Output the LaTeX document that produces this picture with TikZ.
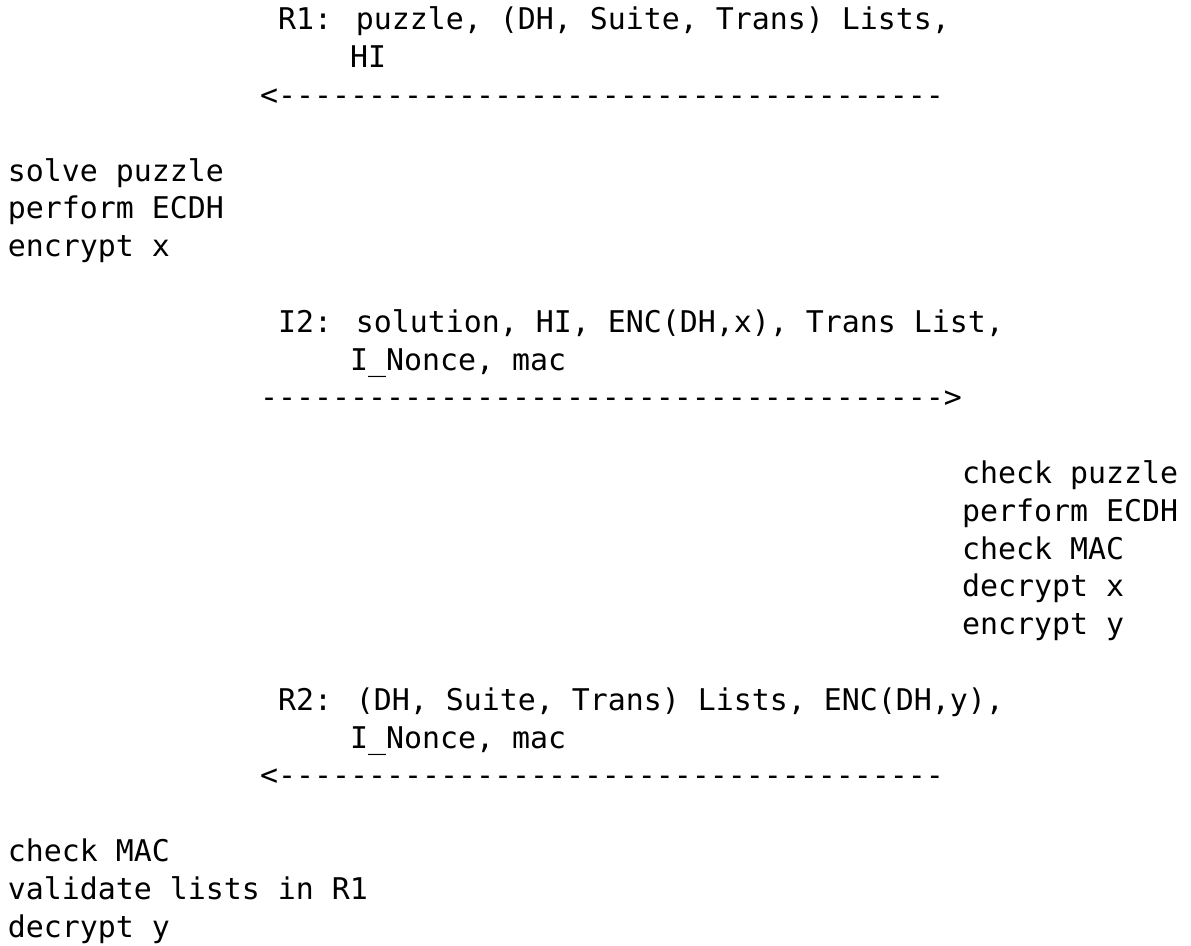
\documentclass[tikz,border=0pt]{standalone}
\usepackage{fontspec}
\newfontfamily\mono{DejaVu Sans Mono}
\newcommand\rep[2]{\ifnum#1>0 #2\kern0pt\expandafter\rep\expandafter{\the\numexpr#1-1\relax}{#2}\fi}
\begin{document}
\begin{tikzpicture}[x=1pt,y=1pt,
  txt/.style={anchor=base west, inner sep=0pt, outer sep=0pt,
    font=\mono\fontsize{29.9pt}{37.8pt}\selectfont}]
\useasboundingbox (0,0) rectangle (1191,945);
% row r baseline: 945-29.9-37.8*r ; column c: 8+18*c
\node[txt] (r1a) at ({8+18*15},{945-29.9-37.8*0}) {R1: puzzle, (DH, Suite, Trans) Lists,};
\node[txt] (r1b) at ({8+18*19},{945-29.9-37.8*1}) {HI};
\node[txt] (arr1) at ({8+18*14},{945-29.9-37.8*2}) {<\kern0pt\rep{37}{-}};
\node[txt] (ia) at ({8+18*0},{945-29.9-37.8*4}) {solve puzzle};
\node[txt] (ib) at ({8+18*0},{945-29.9-37.8*5}) {perform ECDH};
\node[txt] (ic) at ({8+18*0},{945-29.9-37.8*6}) {encrypt x};
\node[txt] (i2a) at ({8+18*15},{945-29.9-37.8*8}) {I2: solution, HI, ENC(DH,x), Trans List,};
\node[txt] (i2b) at ({8+18*19},{945-29.9-37.8*9}) {I\_Nonce, mac};
\node[txt] (arr2) at ({8+18*14},{945-29.9-37.8*10}) {\rep{38}{-}>};
\node[txt] (ra) at ({8+18*53},{945-29.9-37.8*12}) {check puzzle};
\node[txt] (rb) at ({8+18*53},{945-29.9-37.8*13}) {perform ECDH};
\node[txt] (rc) at ({8+18*53},{945-29.9-37.8*14}) {check MAC};
\node[txt] (rd) at ({8+18*53},{945-29.9-37.8*15}) {decrypt x};
\node[txt] (re) at ({8+18*53},{945-29.9-37.8*16}) {encrypt y};
\node[txt] (r2a) at ({8+18*15},{945-29.9-37.8*18}) {R2: (DH, Suite, Trans) Lists, ENC(DH,y),};
\node[txt] (r2b) at ({8+18*19},{945-29.9-37.8*19}) {I\_Nonce, mac};
\node[txt] (arr3) at ({8+18*14},{945-29.9-37.8*20}) {<\kern0pt\rep{37}{-}};
\node[txt] (fa) at ({8+18*0},{945-29.9-37.8*22}) {check MAC};
\node[txt] (fb) at ({8+18*0},{945-29.9-37.8*23}) {validate lists in R1};
\node[txt] (fc) at ({8+18*0},{945-29.9-37.8*24}) {decrypt y};
\end{tikzpicture}
\end{document}
